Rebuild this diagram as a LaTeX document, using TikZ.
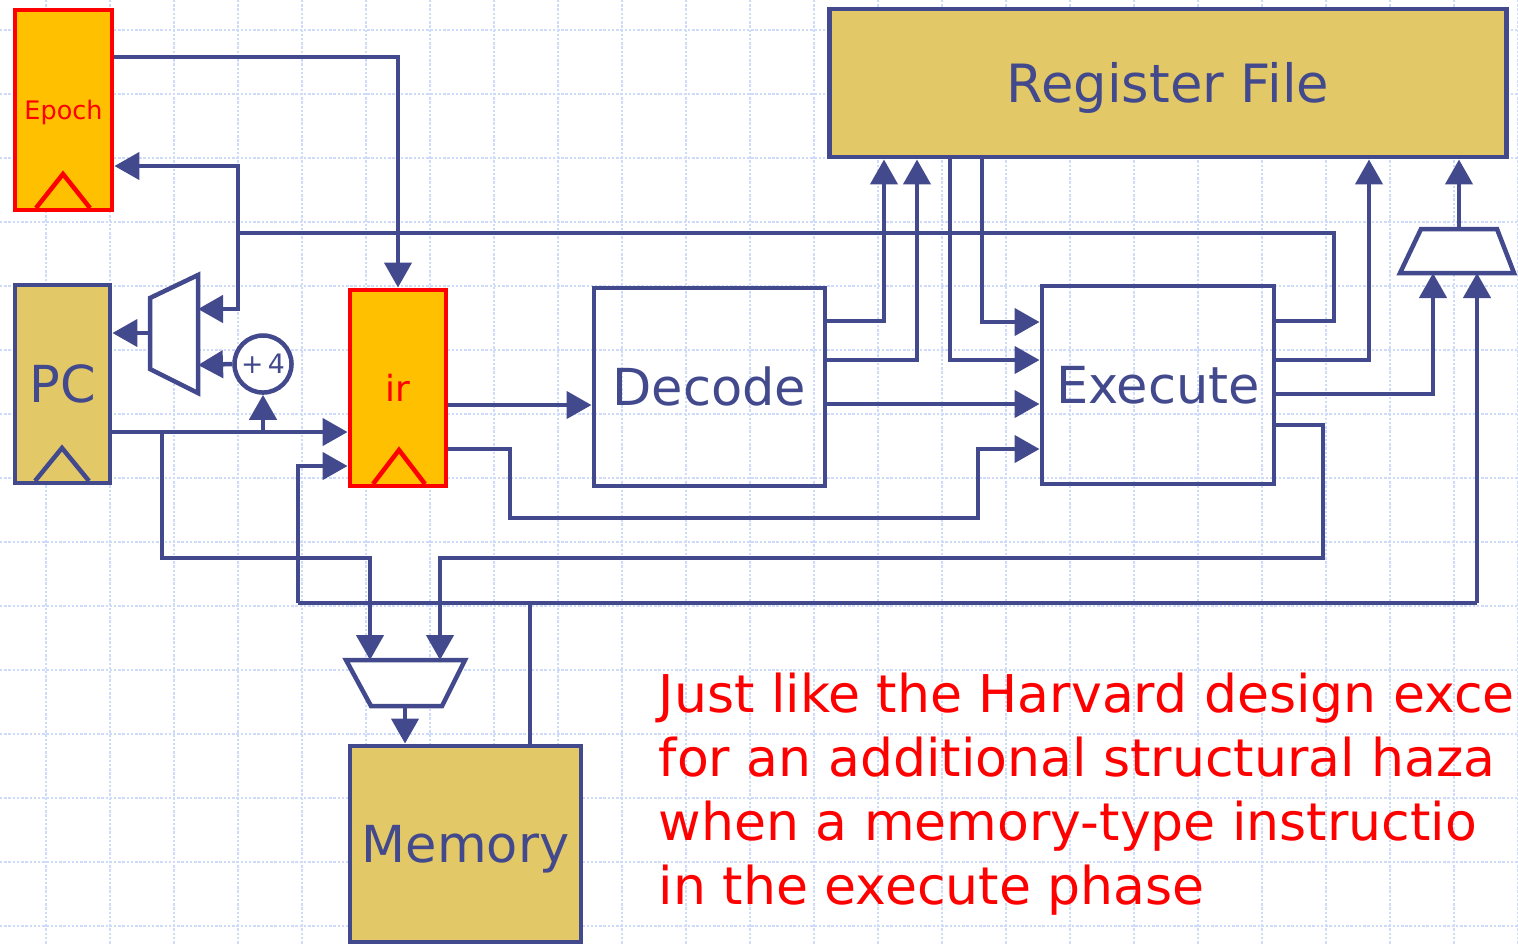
\documentclass[tikz,border=0pt]{standalone}
\usepackage{fontspec}
\setmainfont{DejaVu Sans}
\usetikzlibrary{arrows.meta}
\definecolor{wireblue}{RGB}{66,73,140}
\definecolor{goldfill}{RGB}{226,200,102}
\definecolor{orangefill}{RGB}{255,192,0}
\definecolor{gridblue}{RGB}{206,219,250}
\newcommand\labfont{\fontsize{14.5pt}{17pt}\selectfont}
\newcommand\notefont{\fontsize{14.8pt}{18pt}\selectfont}
\begin{document}
\begin{tikzpicture}[x=0.01cm,y=-0.01cm,
  wire/.style={draw=wireblue,line width=0.045cm,line join=miter},
  arr/.style={wire,-{Triangle[length=0.25cm,width=0.27cm]}},
  gridline/.style={draw=gridblue,line width=0.02cm,dash pattern=on 0.7pt off 0.5pt},
  box/.style={draw=wireblue,line width=0.048cm,rectangle,inner sep=0pt,text=wireblue,
    font=\labfont,text height=10.6pt,text depth=0pt},
  regbox/.style={box,fill=goldfill},
  stagebox/.style={box},
  ffbox/.style={draw=red,line width=0.048cm,rectangle,inner sep=0pt,fill=orangefill,text=red},
  muxshape/.style={draw=wireblue,line width=0.045cm,fill=white,line join=miter},
  clk/.style={line width=0.045cm,line join=miter},
  note/.style={text=red,font=\notefont,anchor=base west,inner sep=0pt}]
\useasboundingbox (0,0) rectangle (1518,944);
\clip (0,0) rectangle (1518,944);
% background grid
\foreach \x in {46,110,...,1518} \draw[gridline] (\x,0) -- (\x,944);
\foreach \y in {30,94,...,944} \draw[gridline] (0,\y) -- (1518,\y);

% boxes
\node[ffbox,minimum width=0.97cm,minimum height=2cm,font=\fontsize{7.25pt}{9pt}\selectfont,
  text height=5.3pt,text depth=0pt] (epoch) at (63.5,110) {Epoch};
\node[regbox,minimum width=0.95cm,minimum height=1.98cm] (pc) at (62.5,384) {PC};
\node[ffbox,minimum width=0.96cm,minimum height=1.96cm,font=\fontsize{10.2pt}{12pt}\selectfont,
  text height=7.6pt,text depth=0pt] (ir) at (398,388) {ir};
\node[stagebox,minimum width=2.31cm,minimum height=1.98cm] (decode) at (709.5,387) {Decode};
\node[stagebox,minimum width=2.32cm,minimum height=1.98cm] (execute) at (1158,385) {Execute};
\node[regbox,minimum width=6.76cm,minimum height=1.48cm,font=\fontsize{15pt}{18pt}\selectfont,
  text height=10.9pt] (rf) at (1168,83) {Register File};
\node[regbox,minimum width=2.31cm,minimum height=1.96cm] (memory) at (465.5,844) {Memory};

% clock triangles
\draw[clk,red] (36,208) -- (63,174) -- (90,208);
\draw[clk,wireblue] (35,481) -- (62,448) -- (89,481);
\draw[clk,red] (373,484) -- (399,450) -- (425,484);

% muxes
\draw[muxshape] (150,298) -- (198,275) -- (198,393) -- (150,369) -- cycle;
\coordinate (pcmuxout) at (150,333);
\coordinate (pcmuxinA) at (198,309);
\coordinate (pcmuxinB) at (198,365);
\draw[muxshape] (1421,229) -- (1497,229) -- (1514,273) -- (1400,273) -- cycle;
\coordinate (wbout) at (1459,229);
\coordinate (wbinA) at (1433,273);
\coordinate (wbinB) at (1477,273);
\draw[muxshape] (346,660) -- (465,660) -- (442,706) -- (371,706) -- cycle;
\coordinate (meminA) at (370,660);
\coordinate (meminB) at (440,660);
\coordinate (memout) at (405,706);

% +4
\node[draw=wireblue,line width=0.045cm,circle,fill=white,minimum size=0.57cm,inner sep=0pt,
  text=wireblue,font=\fontsize{7.6pt}{9pt}\selectfont] (plus4) at (263,364) {+\,4};

% junction coordinates
\coordinate (jEp) at (238,233);
\coordinate (jPC) at (162,432);
\coordinate (jMem) at (530,603);
\coordinate (jL) at (298,603);
\coordinate (jR) at (1477,603);

% epoch -> ir
\draw[arr] (epoch.east |- 0,57) -| (ir.north);
% execute -> epoch / pc mux
\draw[arr] (execute.east |- 0,321) -| (1334,233) -- (jEp) |- (epoch.east |- 0,166);
\draw[arr] (jEp) |- (pcmuxinA);
\draw[arr] (plus4.west) -- (pcmuxinB);
\draw[arr] (pcmuxout) -- (pc.east |- pcmuxout);
% pc outputs
\draw[arr] (pc.east |- jPC) -- (ir.west |- jPC);
\draw[arr] (plus4.south |- jPC) -- (plus4.south);
\draw[arr] (jPC) |- (280,558) -| (meminA);
% ir outputs
\draw[arr] (ir.east |- 0,405) -- (decode.west |- 0,405);
\draw[arr] (ir.east |- 0,449) -| (510,518) -| (978,449) -- (execute.west |- 0,449);
% decode outputs
\draw[arr] (decode.east |- 0,321) -| (rf.south -| 884,0);
\draw[arr] (decode.east |- 0,360) -| (rf.south -| 917,0);
\draw[arr] (decode.east |- 0,404) -- (execute.west |- 0,404);
% register file outputs
\draw[arr] (rf.south -| 950,0) |- (execute.west |- 0,360);
\draw[arr] (rf.south -| 982,0) |- (execute.west |- 0,322);
% execute outputs
\draw[arr] (execute.east |- 0,360) -| (rf.south -| 1369,0);
\draw[arr] (execute.east |- 0,394) -| (wbinA);
\draw[arr] (execute.east |- 0,425) -| (1323,558) -| (meminB);
\draw[arr] (wbout) -- (rf.south -| wbout);
% memory
\draw[arr] (memout) -- (memory.north -| memout);
\draw[wire] (memory.north -| jMem) -- (jMem);
\draw[wire] (jL) -- (jR);
\draw[arr] (jL) |- (ir.west |- 0,466);
\draw[arr] (jR) -- (wbinB);

% note (cut at the right edge as in the slide)
\node[note] (t1) at (658,712) {Just like the Harvard design exce};
\node[note] (t2) at (658,776) {for an additional structural haza};
\node[note] (t3) at (658,840) {when a memory-type instructio};
\node[note] (t4) at (658,904) {in the execute phase};
\end{tikzpicture}
\end{document}
